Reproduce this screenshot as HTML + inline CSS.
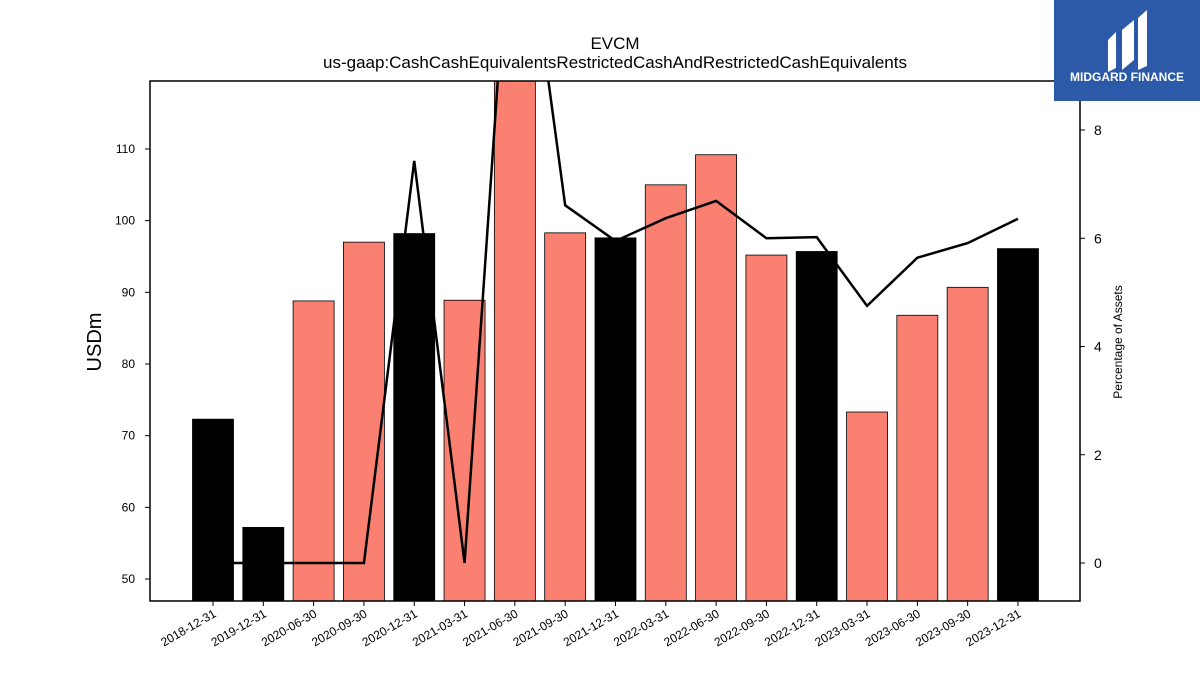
<!DOCTYPE html>
<html><head><meta charset="utf-8"><style>
body{margin:0;background:#fff;}
svg{display:block;font-family:"Liberation Sans","DejaVu Sans",sans-serif;}
</style></head><body>
<svg id="chart" width="1200" height="675" viewBox="0 0 1200 675">
<defs><clipPath id="plotclip"><rect x="150" y="81" width="930" height="520"/></clipPath></defs>
<text x="615" y="49" text-anchor="middle" font-size="17">EVCM</text>
<text x="615" y="68" text-anchor="middle" font-size="17">us-gaap:CashCashEquivalentsRestrictedCashAndRestrictedCashEquivalents</text>
<g id="bars" clip-path="url(#plotclip)"></g>
<g id="line" clip-path="url(#plotclip)"></g>
<rect x="150" y="81" width="930" height="520" fill="none" stroke="#000" stroke-width="1.5"/>
<g id="axes"></g>
<text transform="translate(101,342) rotate(-90)" text-anchor="middle" font-size="20">USDm</text>
<text transform="translate(1122,342) rotate(-90)" text-anchor="middle" font-size="12">Percentage of Assets</text>
<g>
<rect x="1054" y="0" width="146" height="101" fill="#2c5aa9"/>
<path d="M1108 40 L1116 32 L1116 68 L1108 72 Z M1122 30 L1134 20 L1134 60 L1122 70 Z M1138 18 L1147 10 L1147 66 L1138 70 Z" fill="#fff"/>
<text x="1127" y="81" text-anchor="middle" font-size="12" font-weight="bold" fill="#fff">MIDGARD FINANCE</text>
</g>
</svg>
<script>
const categories=["2018-12-31","2019-12-31","2020-06-30","2020-09-30","2020-12-31","2021-03-31","2021-06-30","2021-09-30","2021-12-31","2022-03-31","2022-06-30","2022-09-30","2022-12-31","2023-03-31","2023-06-30","2023-09-30","2023-12-31"];
const barValues=[72.3,57.2,88.8,97.0,98.2,88.9,125,98.3,97.6,105.0,109.2,95.2,95.7,73.3,86.8,90.7,96.1];
const pctValues=[0,0,0,0,7.43,0,13.5,6.61,5.95,6.37,6.69,6.0,6.02,4.75,5.64,5.91,6.36];
const leftTicks=[50,60,70,80,90,100,110];
const rightTicks=[0,2,4,6,8];
const NS="http://www.w3.org/2000/svg";
const yL=v=>579-(v-50)*7.1667;
const yR=p=>563-p*54.125;
const xC=i=>213+i*50.31;
const bars=document.getElementById('bars'),line=document.getElementById('line'),axes=document.getElementById('axes');
function mk(t,a,p){const e=document.createElementNS(NS,t);for(const k in a)e.setAttribute(k,a[k]);p.appendChild(e);return e;}
categories.forEach((c,i)=>{
 const y=yL(barValues[i]);
 const r=mk('rect',{x:xC(i)-20.5,y:y,width:41,height:Math.max(0,601-y+5),fill:c.endsWith('12-31')?'#000':'#fa8072',stroke:'#000','stroke-width':0.8},bars);
 
 
 const t=mk('line',{x1:xC(i),x2:xC(i),y1:601,y2:606,stroke:'#000'},axes);
 
 
 const l=mk('text',{transform:`translate(${xC(i)+4},${616}) rotate(-30)`,'text-anchor':'end','font-size':12},axes);
 l.textContent=c;
 
 
});
const pl=mk('polyline',{points:pctValues.map((p,i)=>xC(i)+','+yR(p)).join(' '),fill:'none',stroke:'#000','stroke-width':2.5,'stroke-linejoin':'miter'},line);


leftTicks.forEach(v=>{
 const t=mk('line',{x1:145,x2:150,y1:yL(v),y2:yL(v),stroke:'#000'},axes);
 
 
 const l=mk('text',{x:135,y:yL(v)+4,'text-anchor':'end','font-size':12},axes);
 l.textContent=v;
 
 
});
rightTicks.forEach(v=>{
 const t=mk('line',{x1:1080,x2:1085,y1:yR(v),y2:yR(v),stroke:'#000'},axes);
 
 
 const l=mk('text',{x:1094,y:yR(v)+5,'font-size':14},axes);
 l.textContent=v;
 
 
});
</script>
</body></html>
